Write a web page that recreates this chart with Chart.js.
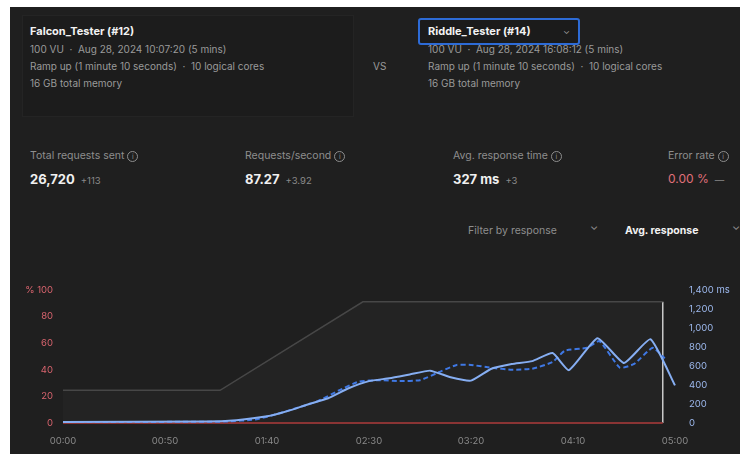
<!DOCTYPE html>
<html>
<head>
<meta charset="utf-8">
<script src="https://cdn.jsdelivr.net/npm/chart.js@4.4.1/dist/chart.umd.min.js"></script>
<style>
  html, body { margin: 0; padding: 0; background: #fff; }
  body { width: 740px; height: 454px; overflow: hidden; position: relative; font-family: "Inter", "Open Sans", sans-serif; }
  #panel { position: absolute; left: 10px; top: 7px; width: 730px; height: 447px; background: #1f1f1f; overflow: hidden; }
  .abs { position: absolute; white-space: nowrap; }
  .card { position: absolute; border: 1px solid #242424; background: #1c1c1c; }
  .title { color: #f2f2f2; font-weight: 700; font-size: 11px; }
  .info { color: #9a9a9a; font-size: 10px; line-height: 17px; }
  .mlabel { color: #8e8e8e; font-size: 10.5px; }
  .mval { color: #f0f0f0; font-weight: 700; font-size: 13px; }
  .delta { color: #8a8a8a; font-size: 9.5px; font-weight: 400; margin-left: 6px; }
  .icon { display: inline-block; width: 9px; height: 9px; border: 1px solid #8e8e8e; border-radius: 50%; font-size: 7px; line-height: 9px; text-align: center; margin-left: 3px; vertical-align: 0px; }
  #sel { position: absolute; left: 408px; top: 11px; width: 162px; height: 27px; border: 2px solid #2d6bd6; border-radius: 3px; box-sizing: border-box; background: #1b1b1b; }
  #chartBox { position: absolute; left: 0px; top: 263px; width: 730px; height: 184px; }
</style>
</head>
<body>
<div id="panel">
  <div class="card" style="left:12px;top:8px;width:330px;height:100px;"></div>
  <div class="abs title" style="left:20px;top:17px;">Falcon_Tester (#12)</div>
  <div class="abs info" style="left:20px;top:34px;">100 VU &nbsp;· &nbsp;Aug 28, 2024 10:07:20 (5 mins)<br>Ramp up (1 minute 10 seconds) &nbsp;· &nbsp;10 logical cores<br>16 GB total memory</div>

  <div class="abs info" style="left:363px;top:51px;">VS</div>

  <div id="sel"></div>
  <div class="abs title" style="left:418px;top:17px;">Riddle_Tester (#14)</div>
  <div class="abs info" style="left:553px;top:15px;font-size:9px;">&#8964;</div>
  <div class="abs info" style="left:418px;top:34px;">100 VU &nbsp;· &nbsp;Aug 28, 2024 16:08:12 (5 mins)<br>Ramp up (1 minute 10 seconds) &nbsp;· &nbsp;10 logical cores<br>16 GB total memory</div>

  <div class="abs mlabel" style="left:20px;top:142px;">Total requests sent<span class="icon">i</span></div>
  <div class="abs mval" style="left:20px;top:164px;">26,720<span class="delta">+113</span></div>
  <div class="abs mlabel" style="left:235px;top:142px;">Requests/second<span class="icon">i</span></div>
  <div class="abs mval" style="left:235px;top:164px;">87.27<span class="delta">+3.92</span></div>
  <div class="abs mlabel" style="left:443px;top:142px;">Avg. response time<span class="icon">i</span></div>
  <div class="abs mval" style="left:443px;top:164px;">327 ms<span class="delta">+3</span></div>
  <div class="abs mlabel" style="left:658px;top:142px;">Error rate<span class="icon">i</span></div>
  <div class="abs mval" style="left:658px;top:164px;color:#e0707a;font-weight:400;font-size:12px;">0.00 %<span class="delta">—</span></div>

  <div class="abs mlabel" style="left:458px;top:217px;">Filter by response</div>
  <div class="abs mlabel" style="left:580px;top:213px;">&#8964;</div>
  <div class="abs title" style="left:615px;top:217px;font-size:10.5px;">Avg. response</div>
  <div class="abs mlabel" style="left:722px;top:213px;">&#8964;</div>

  <div id="chartBox"><canvas id="c" width="730" height="184"></canvas></div>
</div>
<script>
// time in seconds
const vuTimes = [0, 77, 147, 294];
const vuValues = [27, 27, 100, 100];

const endTimes = [294, 294];
const endValues = [100, 0];

const errorTimes = [0, 294];
const errorValues = [0, 0];

const falconTimes = [0, 70, 85, 100, 110, 120, 130, 140, 150, 160, 170, 180, 190, 200, 210, 220, 230, 240, 248, 262, 275, 288, 300];
const falconResp  = [10, 15, 30, 70, 125, 195, 260, 365, 440, 470, 510, 550, 480, 445, 570, 620, 650, 735, 555, 890, 630, 880, 395];

const riddleTimes = [0, 80, 95, 105, 115, 125, 135, 145, 155, 165, 175, 185, 193, 200, 210, 220, 230, 240, 246, 257, 263, 273, 280, 289, 295];
const riddleResp  = [10, 15, 40, 95, 160, 230, 340, 435, 450, 440, 450, 540, 610, 610, 580, 560, 570, 640, 760, 790, 860, 580, 620, 790, 680];

const pctTicks = [0, 20, 40, 60, 80, 100];
const msTicks = [0, 200, 400, 600, 800, 1000, 1200, 1400];

function pts(xs, ys) { return xs.map((x, i) => ({ x: x, y: ys[i] })); }
function mmss(v) {
    const m = Math.floor(v / 60), s = v % 60;
    return String(m).padStart(2, '0') + ':' + String(s).padStart(2, '0');
}

new Chart(document.getElementById('c'), {
    type: 'line',
    data: {
        datasets: [
            { label: 'Falcon_Tester (#12)', data: pts(falconTimes, falconResp), yAxisID: 'ms', borderColor: '#86aef2', borderWidth: 2, pointRadius: 0, tension: 0.15 },
            { label: 'Riddle_Tester (#14)', data: pts(riddleTimes, riddleResp), yAxisID: 'ms', borderColor: '#3f78e4', borderWidth: 2, borderDash: [5, 3], pointRadius: 0, tension: 0.15 },
            { label: 'Error rate', data: pts(errorTimes, errorValues), yAxisID: 'pct', borderColor: '#8a3434', borderWidth: 2, pointRadius: 0 },
            { label: 'VUs', data: pts(vuTimes, vuValues), yAxisID: 'vu', borderColor: '#474747', borderWidth: 1.5, pointRadius: 0, fill: 'origin', backgroundColor: 'rgba(255,255,255,0.02)' },
            { label: 'end', data: pts(endTimes, endValues), yAxisID: 'vu', borderColor: '#c9c9c9', borderWidth: 1.5, pointRadius: 0 }
        ]
    },
    options: {
        responsive: false,
        animation: false,
        clip: false,
        layout: { padding: { top: 18, left: 0, right: 0, bottom: 0 } },
        plugins: { legend: { display: false }, tooltip: { enabled: false } },
        scales: {
            x: {
                type: 'linear', min: 0, max: 300,
                grid: { display: false, drawTicks: false }, border: { display: false },
                ticks: { stepSize: 50, padding: 12, color: '#8a8a8a', font: { size: 9.5, family: 'Inter' }, callback: v => mmss(v), maxRotation: 0 },
                afterFit: s => { s.height = 31; }
            },
            pct: {
                position: 'left', min: 0, max: 100,
                grid: { display: false, drawTicks: false }, border: { display: false },
                afterBuildTicks: s => { s.ticks = pctTicks.map(v => ({ value: v })); },
                ticks: { padding: 10, color: '#d9646e', font: { size: 9.5, family: 'Inter' }, callback: v => v === 100 ? '% 100' : String(v) },
                afterFit: s => { s.width = 53; }
            },
            ms: {
                position: 'right', min: 0, max: 1400,
                grid: { display: false, drawTicks: false }, border: { display: false },
                afterBuildTicks: s => { s.ticks = msTicks.map(v => ({ value: v })); },
                ticks: { padding: 14, color: '#9db9ee', font: { size: 9.5, family: 'Inter' }, callback: v => v === 1400 ? '1,400 ms' : v.toLocaleString('en-US') },
                afterFit: s => { s.width = 65; }
            },
            vu: { display: false, min: 0, max: 110 }
        }
    }
});
</script>
</body>
</html>
